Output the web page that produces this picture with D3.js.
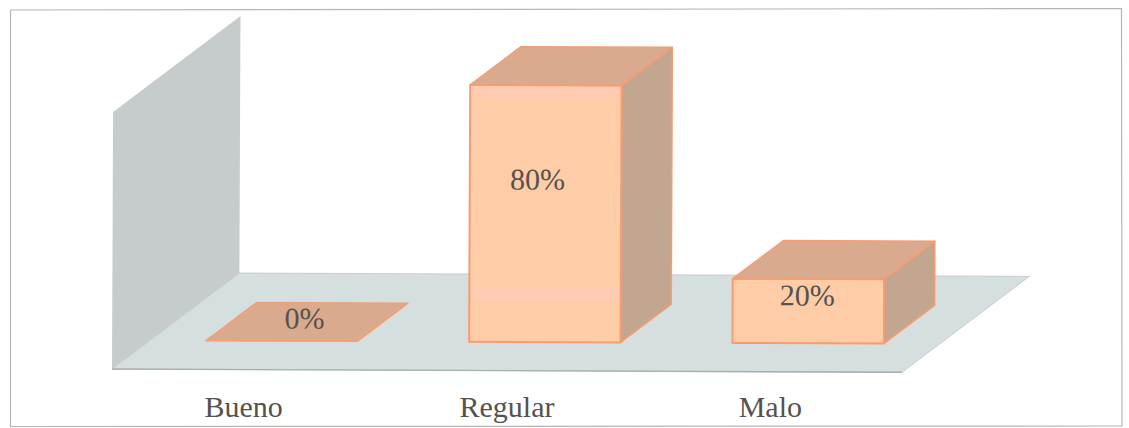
<!DOCTYPE html>
<html>
<head>
<meta charset="utf-8">
<script src="https://cdn.jsdelivr.net/npm/d3@7"></script>
<style>
  html, body { margin: 0; padding: 0; background: #fff; }
  svg { display: block; }
  text { font-family: "Liberation Serif", "Times New Roman", serif; fill: #55524e; }
</style>
</head>
<body>
<svg id="chart" width="1129" height="428"></svg>
<script>
const categories = ["Bueno", "Regular", "Malo"];
const values = [0, 80, 20];
const valueLabels = ["0%", "80%", "20%"];

const svg = d3.select("#chart");

// Fine frame round the figure
svg.append("path")
  .attr("d", "M10.5,10 L1121.5,8.5 L1122,426 L10.5,426.5 Z")
  .attr("fill", "#fff")
  .attr("stroke", "#b4b6b6")
  .attr("stroke-width", 1.2);

const plot = svg.append("g").attr("transform", "rotate(0.24 112 369)");

// Oblique projection: x along the front, y upward, z into the chart
const x = d3.scaleBand().domain(categories).range([112, 902]).paddingInner(0.425).paddingOuter(0.2125);
const y = d3.scaleLinear().domain([0, 80]).range([369, 112]);
const zx = d3.scaleLinear().domain([0, 1]).range([0, 127]);
const zy = d3.scaleLinear().domain([0, 1]).range([0, -96.5]);
const pt = (px, v, z) => [px + zx(z), y(v) + zy(z)];
const poly = pts => "M" + pts.map(p => p.join(",")).join("L") + "Z";

const [x0, x1] = x.range();
const vMax = y.domain()[1];

// Back wall
plot.append("path")
  .attr("d", poly([pt(x0, 0, 0), pt(x0, vMax, 0), pt(x0, vMax, 1), pt(x0, 0, 1)]))
  .attr("fill", "#c6cccb");

// Floor
plot.append("path")
  .attr("d", poly([pt(x0, 0, 0), pt(x0, 0, 1), pt(x1, 0, 1), pt(x1, 0, 0)]))
  .attr("fill", "#d6dfe0")
  .attr("stroke", "#bfc6c6")
  .attr("stroke-width", 0.8);
plot.append("line")
  .attr("x1", x0).attr("x2", x1).attr("y1", y(0)).attr("y2", y(0))
  .attr("stroke", "#a9afaf").attr("stroke-width", 1.4);

// Bars sit between these two depths on the floor
const zFront = 0.297, zBack = 0.695;
const edge = "#f89c70";

const bars = plot.selectAll("g.bar")
  .data(categories.map((c, i) => ({ c, v: values[i], label: valueLabels[i] })))
  .join("g").attr("class", "bar");

bars.each(function (d) {
  const g = d3.select(this);
  const a = x(d.c), b = a + x.bandwidth();
  if (d.v > 0) {
    g.append("path")
      .attr("d", poly([pt(b, 0, zFront), pt(b, d.v, zFront), pt(b, d.v, zBack), pt(b, 0, zBack)]))
      .attr("fill", "#c2a68f").attr("stroke", edge).attr("stroke-width", 1.5).attr("stroke-linejoin", "round");
    g.append("path")
      .attr("d", poly([pt(a, 0, zFront), pt(a, d.v, zFront), pt(b, d.v, zFront), pt(b, 0, zFront)]))
      .attr("fill", "#ffcca8").attr("stroke", edge).attr("stroke-width", 2).attr("stroke-linejoin", "round");
  }
  g.append("path")
    .attr("d", poly([pt(a, d.v, zFront), pt(a, d.v, zBack), pt(b, d.v, zBack), pt(b, d.v, zFront)]))
    .attr("fill", "#d9aa8e").attr("stroke", edge).attr("stroke-width", 1.5).attr("stroke-linejoin", "round");
});

// Paler scan bands across the tall front face
const tall = categories[values.indexOf(d3.max(values))];
[[79.4, 76], [17, 13]].forEach(([hi, lo]) => {
  const a = x(tall), w = x.bandwidth();
  plot.append("rect")
    .attr("x", a + zx(zFront) + 2).attr("width", w - 4)
    .attr("y", y(hi) + zy(zFront)).attr("height", y(lo) - y(hi))
    .attr("fill", "#ffc9c0").attr("opacity", 0.45);
});

// Value labels, placed per bar relative to its front centre and top
const labelShift = [[23, -23], [-8, 94], [-1, 16]];
bars.append("text")
  .attr("x", (d, i) => x(d.c) + x.bandwidth() / 2 + zx(zFront) + labelShift[i][0])
  .attr("y", (d, i) => y(d.v) + zy(zFront) + labelShift[i][1])
  .attr("text-anchor", "middle").attr("dominant-baseline", "central")
  .attr("font-size", 30)
  .text(d => d.label);

// Category axis
const axis = svg.append("g")
  .attr("transform", "translate(0,396)")
  .call(d3.axisBottom(x).tickSize(0).tickPadding(0));
axis.select(".domain").remove();
axis.selectAll("text").attr("font-size", 30).attr("font-family", null).style("fill", "#55524e");
</script>
</body>
</html>
